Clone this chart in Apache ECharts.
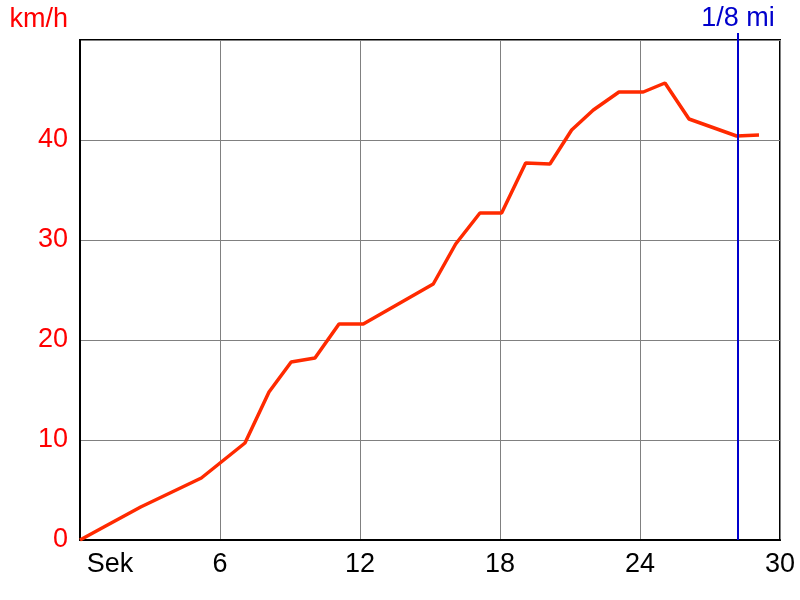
<!DOCTYPE html>
<html>
<head>
<meta charset="utf-8">
<script src="https://cdn.jsdelivr.net/npm/echarts@6/dist/echarts.min.js"></script>
<style>html,body{margin:0;padding:0;background:#fff}#c{width:800px;height:600px}</style>
</head>
<body>
<div id="c"></div>
<script>
const times  = [0, 1.1, 2.6, 5.2, 7.07, 8.1, 9.05, 10.07, 11.1, 12.14, 15.14, 16.1, 17.14, 18.07, 19.1, 20.14, 21.07, 22.0, 23.1, 24.14, 25.07, 26.1, 28.14, 29.1];
const speeds = [0, 1.4, 3.3, 6.2, 9.7, 14.8, 17.8, 18.2, 21.6, 21.6, 25.6, 29.6, 32.7, 32.7, 37.7, 37.6, 41.0, 43.0, 44.8, 44.8, 45.7, 42.1, 40.4, 40.5];
const markerTime = 28.2;
const markerLabel = '1/8 mi';
const yTicks = [0, 10, 20, 30, 40];
const xUnit = 'Sek';
const yUnit = 'km/h';

const chart = echarts.init(document.getElementById('c'), null, {renderer: 'canvas'});
const FONT = 'Liberation Sans, Arial, sans-serif';
const FS = 27;
chart.setOption({
  animation: false,
  backgroundColor: '#ffffff',
  grid: {left: 80, right: 20, top: 40, bottom: 60, show: true, borderColor: '#000', borderWidth: 2, containLabel: false},
  xAxis: {
    type: 'value', min: 0, max: 30, interval: 6,
    axisLine: {show: true, lineStyle: {color: '#000', width: 2}},
    axisTick: {show: false},
    splitLine: {show: true, lineStyle: {color: '#808080', width: 1}},
    axisLabel: {
      color: '#000', fontSize: FS, fontFamily: FONT, margin: 11,
      formatter: v => v === 0 ? '{s|' + xUnit + '}' : String(v),
      rich: {s: {fontSize: FS, fontFamily: FONT, color: '#000', padding: [0, 0, 0, 60]}}
    }
  },
  yAxis: {
    type: 'value', min: 0, max: 50, interval: 10,
    name: yUnit, nameLocation: 'end', nameGap: 7,
    nameTextStyle: {color: '#ff0000', fontSize: FS, fontFamily: FONT, align: 'right', padding: [0, 12, 0, 0]},
    axisLine: {show: true, lineStyle: {color: '#000', width: 2}},
    axisTick: {show: false},
    splitLine: {show: true, lineStyle: {color: '#808080', width: 1}},
    axisLabel: {
      color: '#ff0000', fontSize: FS, fontFamily: FONT, margin: 12,
      formatter: v => yTicks.indexOf(v) >= 0 ? String(v) : ''
    }
  },
  series: [
    {
      type: 'line',
      data: times.map((t, i) => [t, speeds[i]]),
      showSymbol: false,
      lineStyle: {color: '#ff2a00', width: 3.5},
      z: 3
    },
    {
      type: 'line',
      clip: false,
      data: [
        [markerTime, 0],
        {value: [markerTime, 50.7], label: {show: true, position: 'top', distance: 1, formatter: markerLabel, color: '#0000cc', fontSize: FS, fontFamily: FONT}}
      ],
      showSymbol: true,
      symbolSize: 0.01,
      symbol: 'circle',
      itemStyle: {color: '#0000cc'},
      lineStyle: {color: '#0000cc', width: 2},
      z: 4
    }
  ]
});
</script>
</body>
</html>
